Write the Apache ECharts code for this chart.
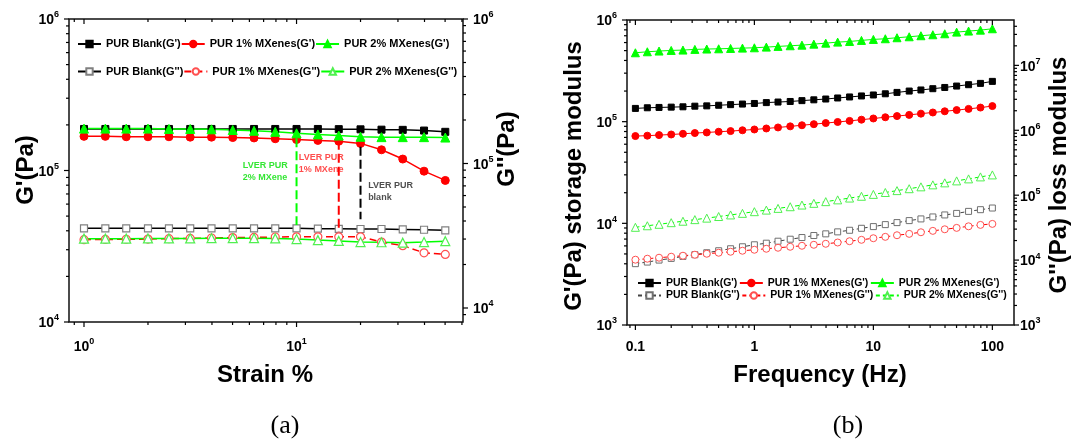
<!DOCTYPE html>
<html><head><meta charset="utf-8">
<script src="https://cdn.jsdelivr.net/npm/echarts@6/dist/echarts.min.js"></script>
<style>html,body{margin:0;padding:0;background:#fff}#c{width:1072px;height:439px}</style>
</head><body><div id="c"></div>
<script>
// ---------- DATA (a) strain sweep ----------
const strainA = [1, 1.26, 1.58, 2, 2.51, 3.16, 3.98, 5.01, 6.31, 7.94, 10, 12.6, 15.8, 20, 25.1, 31.6, 39.8, 50.1];
const blankG1A = [188000,188000,188000,188000,188000,188000,188000,188000,188000,188000,188000,188000,187500,187000,186000,185500,183500,180000];
const oneG1A   = [168000,168000,167000,167000,167000,166000,166000,165000,164000,162000,160000,158000,156000,151000,137000,119000,99000,86000];
const twoG1A   = [189000,189000,189000,189000,188000,188000,187000,185000,183000,180000,176000,173000,170000,167000,166000,166000,166000,165000];
const blankG2A = [35600,35600,35600,35600,35600,35600,35600,35600,35600,35600,35600,35400,35300,35200,35200,35000,34800,34500];
const oneG2A   = [29700,29800,29900,30000,30200,30300,30500,30700,30800,31000,31100,31100,31100,31100,28600,27000,24100,23500];
const twoG2A   = [30200,30200,30200,30300,30300,30300,30400,30400,30400,30300,30000,29500,29100,28600,28500,28300,28600,29000];
const lverGreen = [[10, 163000], [10, 43700]];
const lverRed   = [[15.8, 157000], [15.8, 39300]];
const lverBlack = [[20, 143600], [20, 47600]];
const noteGreen = [[5.56, 99000]];
const noteRed   = [[10.2, 112000]];
const noteBlack = [[21.6, 73200]];

// ---------- DATA (b) frequency sweep ----------
const freqB = [0.1,0.126,0.158,0.2,0.251,0.316,0.398,0.501,0.631,0.794,1,1.26,1.58,2,2.51,3.16,3.98,5.01,6.31,7.94,10,12.6,15.8,20,25.1,31.6,39.8,50.1,63.1,79.4,100];
const blankG1B = [135000,137000,138000,139000,140000,142000,143000,145000,147000,149000,151000,154000,156000,158000,161000,164000,167000,171000,175000,179000,183000,188000,194000,200000,205000,211000,217000,224000,231000,238000,249000];
const oneG1B   = [72200,72800,73800,74800,76000,77300,78300,79600,80800,82300,83800,85700,87700,89900,92200,94500,96900,99300,101800,104600,107500,110500,113500,116600,119900,123100,126500,130000,133600,137600,142300];
const twoG1B   = [476000,487000,495000,502000,506000,514000,518000,521000,525000,529000,533000,541000,550000,558000,566000,579000,592000,606000,615000,630000,644000,654000,669000,684000,700000,716000,732000,760000,778000,795000,820000];
const blankG2B = [8810,9320,10000,10620,11400,12100,12980,13930,14950,16040,17210,18210,19540,20970,22260,23900,25370,27220,28800,30900,32800,35200,37800,40600,43100,46200,49600,52400,56300,59800,63400];
const oneG2B   = [10140,10500,10880,11280,11680,12100,12530,12980,13450,13930,14430,14950,15490,16040,16620,17210,17830,18660,19540,20530,21720,22820,24140,25370,26840,28200,29830,31350,33160,34850,36100];
const twoG2B   = [32000,33800,35600,37700,39700,42000,44300,46900,49600,52500,55700,58900,62600,66400,70500,74900,79500,84700,90300,96200,102900,110000,117600,125800,134500,144300,154900,166100,178300,191300,205300];

const namesA = ["PUR Blank(G')", "PUR 1% MXenes(G')", "PUR 2% MXenes(G')", "PUR Blank(G'')", "PUR 1% MXenes(G'')", "PUR 2% MXenes(G'')"];
const namesB = namesA.map(n => n + '#b');

// ---------- helpers ----------
const FF = '"Liberation Sans", Arial, Helvetica, sans-serif';
const RICH = {
  b: {fontSize: 14, fontWeight: 'bold', fontFamily: FF, color: '#000', padding: [3, 0, 0, 0]},
  s: {fontSize: 9, fontWeight: 'bold', fontFamily: FF, color: '#000', verticalAlign: 'top'}
};
function isPow(v){ const e = Math.log10(v); return Math.abs(e - Math.round(e)) < 1e-6; }
function powLabel(v){ return isPow(v) ? '{b|10}{s|' + Math.round(Math.log10(v)) + '}' : ''; }
function freqLabel(v){ if(!isPow(v)) return ''; const r = Math.round(Math.log10(v)); return r < 0 ? '0.1' : String(Math.pow(10, r)); }

function logTicks(lo, hi){
  const out = [];
  for (let e = Math.floor(Math.log10(lo)) - 1; e <= Math.ceil(Math.log10(hi)); e++) {
    for (let m = 1; m <= 9; m++) {
      const v = +(m * Math.pow(10, e)).toPrecision(6);
      const major = m === 1;
      if (major ? (v >= lo * 0.999 && v <= hi * 1.001) : (v > lo * 1.003 && v < hi * 0.997)) out.push([v, major ? 5 : 3]);
    }
  }
  return out;
}
function tickSeries(xi, yi, side, ticks, ref){
  const horiz = side === 'bottom' || side === 'top';
  return {
    type: 'custom', xAxisIndex: xi, yAxisIndex: yi, silent: true, z: 20, clip: false, animation: false,
    data: ticks.map(t => horiz ? [t[0], ref, t[1]] : [ref, t[0], t[1]]),
    renderItem(params, api){
      const cs = params.coordSys;
      const p = api.coord([api.value(0), api.value(1)]);
      const L = api.value(2);
      let x1, y1, x2, y2;
      if (side === 'bottom') { x1 = x2 = p[0]; y1 = cs.y + cs.height; y2 = y1 + L; }
      else if (side === 'top') { x1 = x2 = p[0]; y1 = cs.y; y2 = y1 + L; }
      else if (side === 'left') { y1 = y2 = p[1]; x1 = cs.x; x2 = x1 - L; }
      else { y1 = y2 = p[1]; x1 = cs.x + cs.width; x2 = x1 + L; }
      return {type: 'line', shape: {x1, y1, x2, y2}, style: {stroke: '#000', lineWidth: 1.2}};
    }
  };
}
function lineSer(name, xs, ys, xi, yi, o){
  return {
    type: 'line', name, xAxisIndex: xi, yAxisIndex: yi,
    data: xs.map((x, i) => [x, ys[i]]),
    symbol: o.sym, symbolSize: o.size, showSymbol: true,
    itemStyle: {color: o.fill, borderColor: o.border, borderWidth: o.bw || 1},
    lineStyle: {color: o.line, width: o.lw || 1.5, type: o.dash || 'solid'},
    emphasis: {disabled: true}, animation: false, z: o.z || 3
  };
}
function noteSer(data, text, color){
  return {type: 'scatter', xAxisIndex: 0, yAxisIndex: 0, data, symbolSize: 1, silent: true,
    itemStyle: {color: 'rgba(0,0,0,0)'},
    label: {show: true, position: 'right', distance: 0, formatter: text, color, fontSize: 9, fontWeight: 'bold', lineHeight: 12, fontFamily: FF},
    animation: false, z: 5};
}
function lverSer(data, color){
  return {type: 'line', xAxisIndex: 0, yAxisIndex: 0, data, symbol: 'none', silent: true,
    lineStyle: {color, width: 2, type: [9, 4]}, animation: false, z: 4};
}
const RED = '#ff0000', GREEN = '#00ff00', RED2 = '#ff5050', GREEN2 = '#50f050';

const A_XMIN = 0.85, A_XMAX = 60.7, B_XMIN = 0.085, B_XMAX = 152;

const series = [
  // (a) G'
  lineSer(namesA[0], strainA, blankG1A, 0, 0, {sym: 'rect', size: 7, fill: '#000', border: '#000', line: '#000'}),
  lineSer(namesA[1], strainA, oneG1A, 0, 0, {sym: 'circle', size: 8, fill: RED, border: RED, line: RED}),
  lineSer(namesA[2], strainA, twoG1A, 0, 0, {sym: 'triangle', size: 9, fill: GREEN, border: GREEN, line: GREEN}),
  // (a) G''
  lineSer(namesA[3], strainA, blankG2A, 0, 1, {sym: 'rect', size: 7, fill: '#fff', border: '#808080', bw: 1.2, line: '#000'}),
  lineSer(namesA[4], strainA, oneG2A, 0, 1, {sym: 'circle', size: 8, fill: '#fff', border: RED2, bw: 1.2, line: RED, dash: [7, 4]}),
  lineSer(namesA[5], strainA, twoG2A, 0, 1, {sym: 'triangle', size: 9, fill: '#fff', border: GREEN2, bw: 1.2, line: GREEN}),
  lverSer(lverGreen, GREEN), lverSer(lverRed, RED), lverSer(lverBlack, '#000'),
  noteSer(noteGreen, 'LVER PUR\n2% MXene', '#00e000'),
  noteSer(noteRed, 'LVER PUR\n1% MXene', '#ff2020'),
  noteSer(noteBlack, 'LVER PUR\nblank', '#222'),
  // (b) G'
  lineSer(namesB[0], freqB, blankG1B, 1, 2, {sym: 'rect', size: 6, fill: '#000', border: '#000', line: '#000', lw: 1}),
  lineSer(namesB[1], freqB, oneG1B, 1, 2, {sym: 'circle', size: 7, fill: RED, border: RED, line: RED, lw: 1}),
  lineSer(namesB[2], freqB, twoG1B, 1, 2, {sym: 'triangle', size: 8, fill: GREEN, border: GREEN, line: GREEN, lw: 1}),
  // (b) G''
  lineSer(namesB[3], freqB, blankG2B, 1, 3, {sym: 'rect', size: 6, fill: '#fff', border: '#707070', bw: 1, line: '#444', lw: 1, dash: [4, 3]}),
  lineSer(namesB[4], freqB, oneG2B, 1, 3, {sym: 'circle', size: 7, fill: '#fff', border: RED2, bw: 1, line: RED, lw: 1, dash: [4, 3]}),
  lineSer(namesB[5], freqB, twoG2B, 1, 3, {sym: 'triangle', size: 8, fill: '#fff', border: GREEN2, bw: 1, line: GREEN, lw: 1, dash: [4, 3]}),
  // ticks
  tickSeries(0, 0, 'bottom', logTicks(A_XMIN, A_XMAX), 1e5),
  tickSeries(0, 0, 'top', logTicks(A_XMIN, A_XMAX), 1e5),
  tickSeries(0, 0, 'left', logTicks(1e4, 1e6), 5),
  tickSeries(0, 1, 'right', logTicks(8000, 1e6), 5),
  tickSeries(1, 2, 'bottom', logTicks(B_XMIN, B_XMAX), 1e4),
  tickSeries(1, 2, 'top', logTicks(B_XMIN, B_XMAX), 1e4),
  tickSeries(1, 2, 'left', logTicks(1e3, 1e6), 1),
  tickSeries(1, 3, 'right', logTicks(1e3, 5e7), 1)
];

const legendBase = {orient: 'horizontal', padding: 0, selectedMode: false, itemWidth: 23, itemHeight: 8,
  textStyle: {fontSize: 11, fontWeight: 'bold', fontFamily: FF, color: '#000'}};
const legendB = {textStyle: {fontSize: 10.5, fontWeight: 'bold', fontFamily: FF, color: '#000'}, formatter: n => n.replace('#b', '')};

const hidden = {axisLine: {show: false}, axisTick: {show: false}, splitLine: {show: false}};
const option = {
  backgroundColor: '#fff',
  animation: false,
  textStyle: {fontFamily: FF},
  grid: [
    {left: 69, top: 19, width: 394, height: 303, show: true, borderColor: '#111', borderWidth: 1.5, backgroundColor: 'transparent'},
    {left: 627, top: 20, width: 387, height: 305, show: true, borderColor: '#111', borderWidth: 1.5, backgroundColor: 'transparent'}
  ],
  xAxis: [
    Object.assign({gridIndex: 0, type: 'log', min: A_XMIN, max: A_XMAX, splitNumber: 10,
      axisLabel: {formatter: powLabel, rich: RICH, margin: 15}}, hidden),
    Object.assign({gridIndex: 1, type: 'log', min: B_XMIN, max: B_XMAX, splitNumber: 10,
      axisLabel: {formatter: freqLabel, fontSize: 14, fontWeight: 'bold', color: '#000', fontFamily: FF, margin: 15}}, hidden)
  ],
  yAxis: [
    Object.assign({gridIndex: 0, type: 'log', position: 'left', min: 1e4, max: 1e6, splitNumber: 10,
      axisLabel: {formatter: powLabel, rich: RICH, margin: 10}}, hidden),
    Object.assign({gridIndex: 0, type: 'log', position: 'right', min: 8000, max: 1e6, splitNumber: 10,
      axisLabel: {formatter: powLabel, rich: RICH, margin: 10}}, hidden),
    Object.assign({gridIndex: 1, type: 'log', position: 'left', min: 1e3, max: 1e6, splitNumber: 10,
      axisLabel: {formatter: powLabel, rich: RICH, margin: 10}}, hidden),
    Object.assign({gridIndex: 1, type: 'log', position: 'right', min: 1e3, max: 5e7, splitNumber: 10,
      axisLabel: {formatter: powLabel, rich: RICH, margin: 6}}, hidden)
  ],
  legend: [
    Object.assign({}, legendBase, {data: namesA.slice(0, 3), left: 77, top: 38.5, itemGap: 0}),
    Object.assign({}, legendBase, {data: namesA.slice(3, 6), left: 77, top: 66, itemGap: 0}),
    Object.assign({}, legendBase, legendB, {data: namesB.slice(0, 3), left: 637, top: 277.5, itemGap: 1.5}),
    Object.assign({}, legendBase, legendB, {data: namesB.slice(3, 6), left: 637, top: 290, itemGap: 1.5})
  ],
  graphic: [
    {type: 'text', x: 26, y: 170, rotation: Math.PI / 2, style: {text: "G'(Pa)", font: 'bold 24px ' + FF, fill: '#000', textAlign: 'center', textVerticalAlign: 'middle', align: 'center', verticalAlign: 'middle'}},
    {type: 'text', x: 507, y: 149, rotation: Math.PI / 2, style: {text: "G''(Pa)", font: 'bold 24px ' + FF, fill: '#000', textAlign: 'center', textVerticalAlign: 'middle', align: 'center', verticalAlign: 'middle'}},
    {type: 'text', x: 265, y: 375, style: {text: 'Strain %', font: 'bold 24px ' + FF, fill: '#000', textAlign: 'center', textVerticalAlign: 'middle', align: 'center', verticalAlign: 'middle'}},
    {type: 'text', x: 574, y: 176, rotation: Math.PI / 2, style: {text: "G'(Pa) storage modulus", font: 'bold 24px ' + FF, fill: '#000', textAlign: 'center', textVerticalAlign: 'middle', align: 'center', verticalAlign: 'middle'}},
    {type: 'text', x: 1059, y: 175, rotation: Math.PI / 2, style: {text: "G''(Pa) loss modulus", font: 'bold 24px ' + FF, fill: '#000', textAlign: 'center', textVerticalAlign: 'middle', align: 'center', verticalAlign: 'middle'}},
    {type: 'text', x: 820, y: 375, style: {text: 'Frequency (Hz)', font: 'bold 24px ' + FF, fill: '#000', textAlign: 'center', textVerticalAlign: 'middle', align: 'center', verticalAlign: 'middle'}},
    {type: 'text', x: 285, y: 426, style: {text: '(a)', font: '26px "Liberation Serif", "Times New Roman", serif', fill: '#000', textAlign: 'center', textVerticalAlign: 'middle', align: 'center', verticalAlign: 'middle'}},
    {type: 'text', x: 848, y: 426, style: {text: '(b)', font: '26px "Liberation Serif", "Times New Roman", serif', fill: '#000', textAlign: 'center', textVerticalAlign: 'middle', align: 'center', verticalAlign: 'middle'}}
  ],
  series
};
const chart = echarts.init(document.getElementById('c'));
chart.setOption(option);
</script></body></html>
